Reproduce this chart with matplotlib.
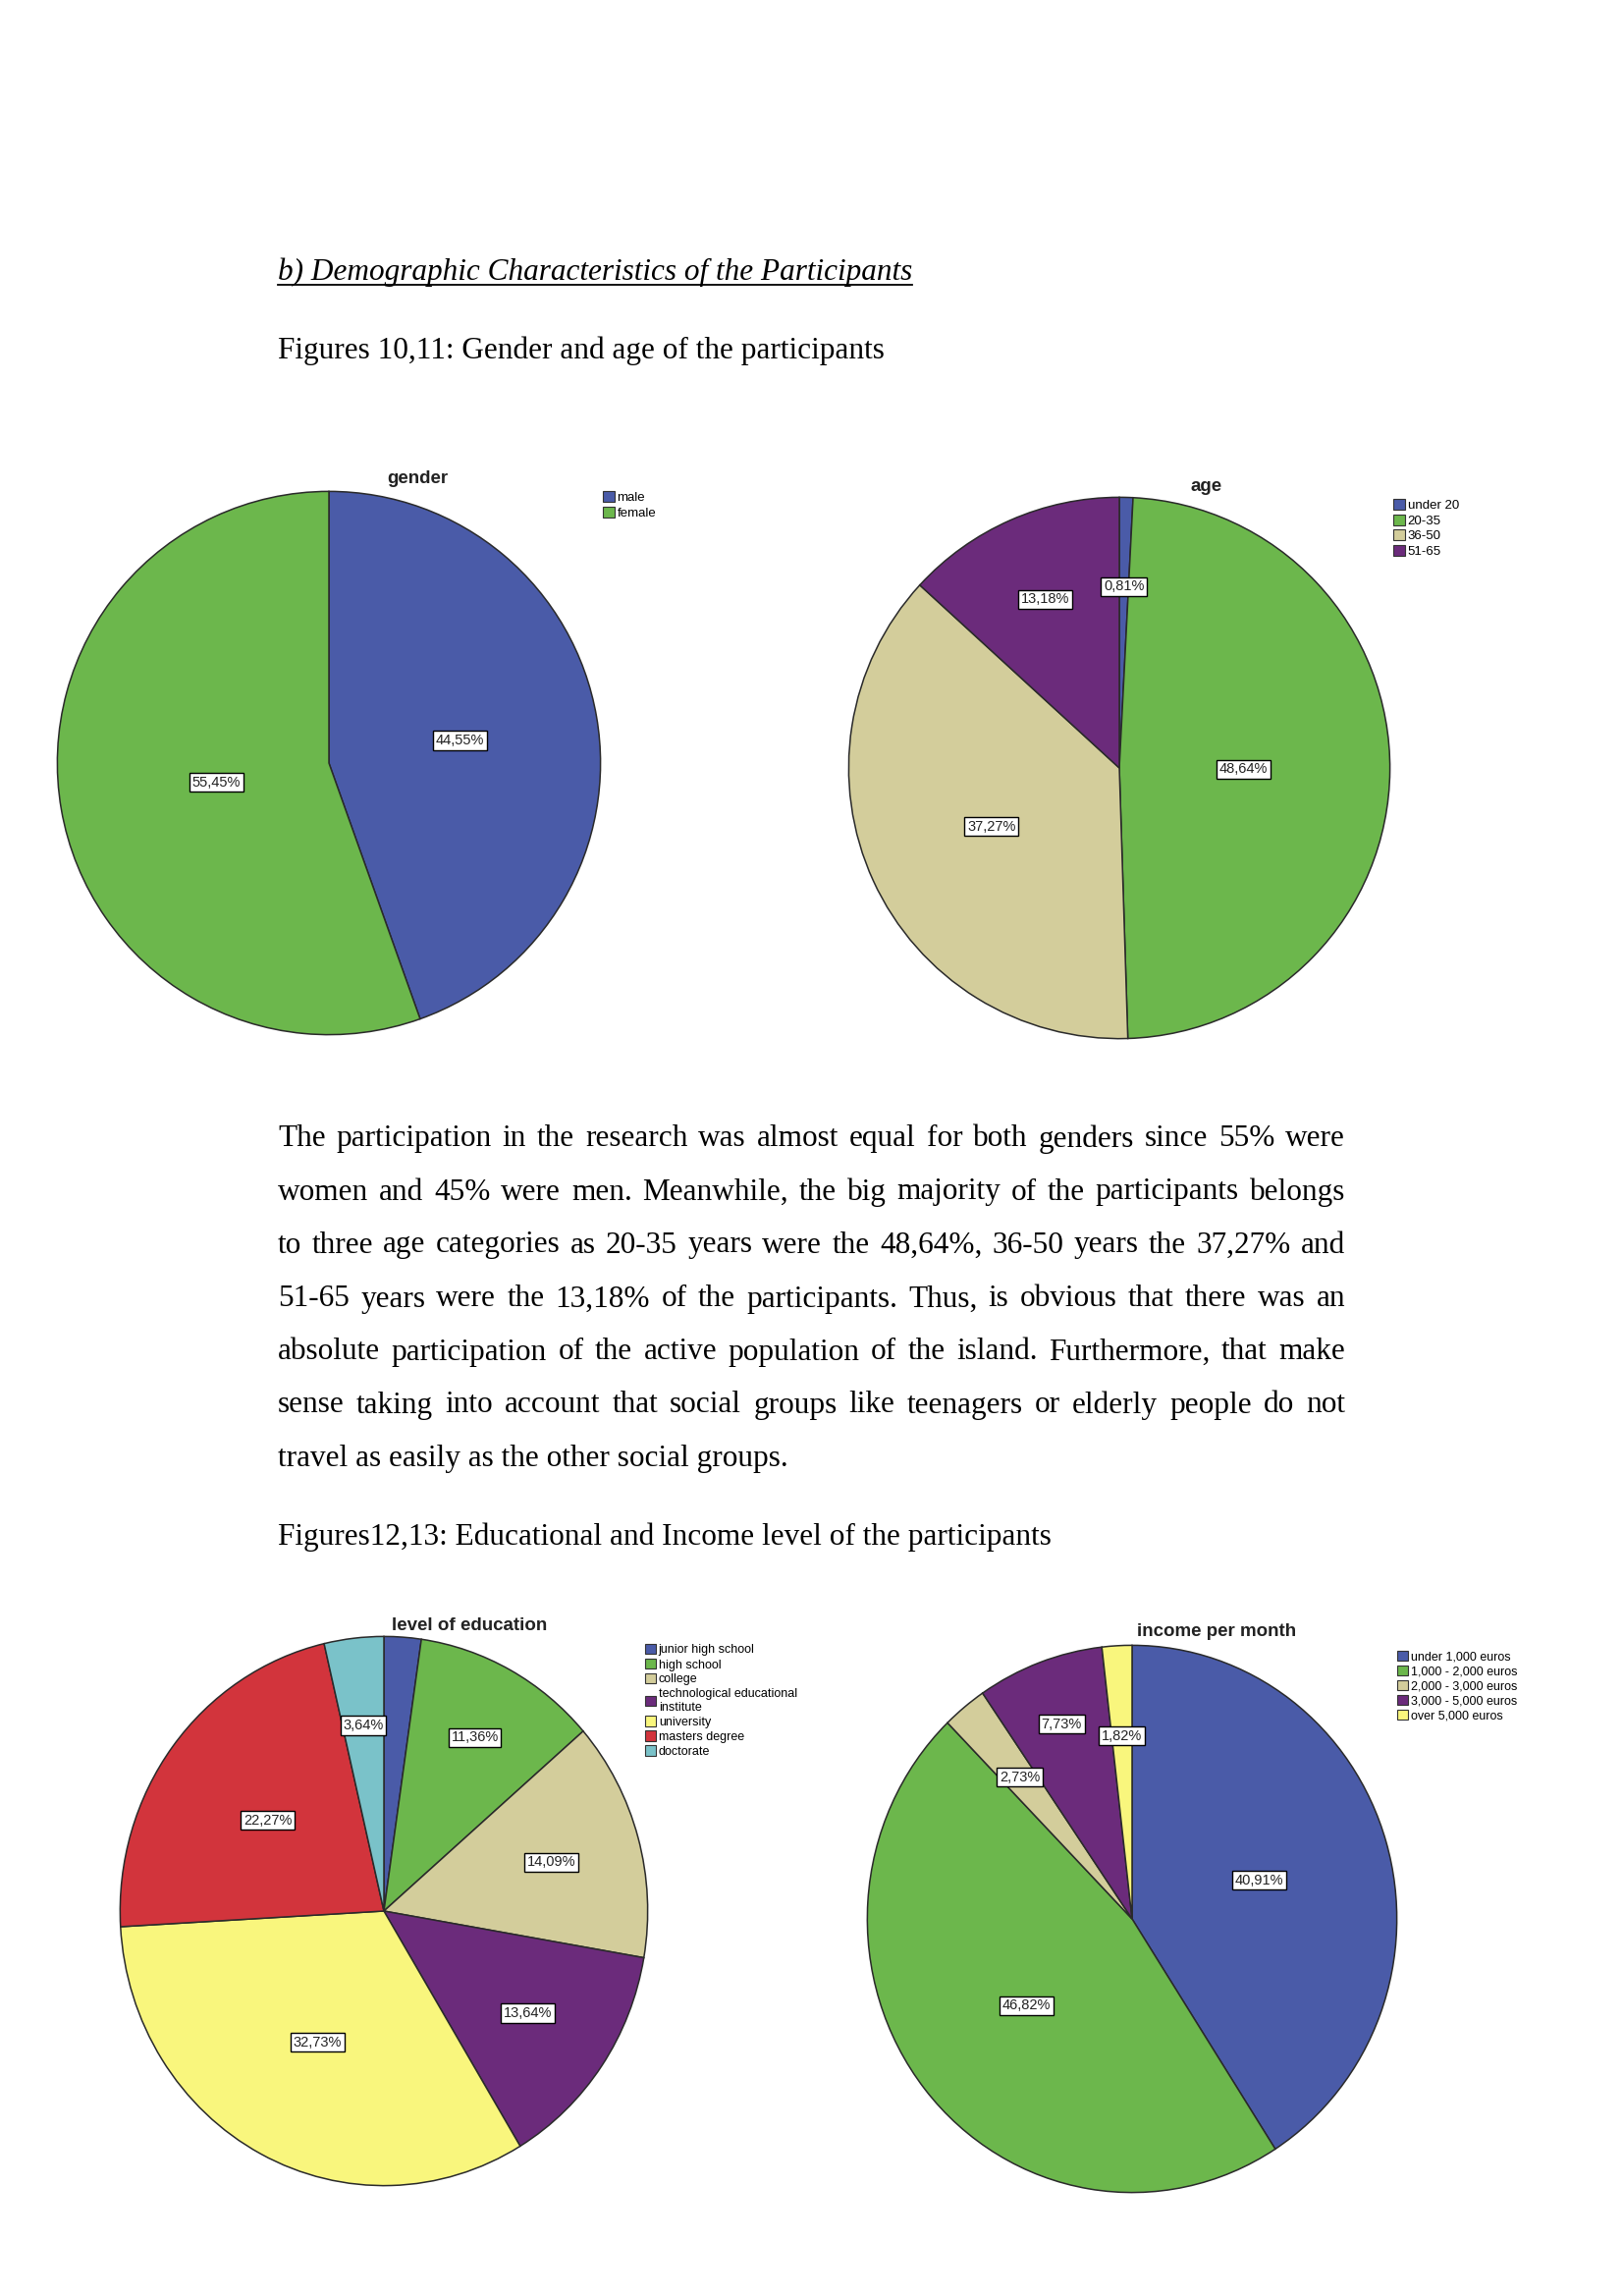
import matplotlib
matplotlib.use("Agg")
import matplotlib.pyplot as plt
from matplotlib.patches import Patch
import numpy as np

# page size in pixels
W, H = 1653, 2338

# ---- data ----
gender_labels = ["male", "female"]
gender_values = [44.55, 55.45]

age_labels = ["under 20", "20-35", "36-50", "51-65"]
age_values = [0.81, 48.64, 37.27, 13.18]

edu_labels = ["junior high school", "high school", "college",
              "technological educational\ninstitute", "university",
              "masters degree", "doctorate"]
edu_values = [2.27, 11.36, 14.09, 13.64, 32.73, 22.27, 3.64]
edu_shown = [False, True, True, True, True, True, True]

income_labels = ["under 1,000 euros", "1,000 - 2,000 euros", "2,000 - 3,000 euros",
                 "3,000 - 5,000 euros", "over 5,000 euros"]
income_values = [40.91, 46.82, 2.73, 7.73, 1.82]

header = "b) Demographic Characteristics of the Participants"
caption1 = "Figures 10,11: Gender and age of the participants"
caption2 = "Figures12,13: Educational and Income level of the participants"
paragraph = [
    "The participation in the research was almost equal for both genders since 55% were",
    "women and 45% were men.  Meanwhile, the big majority of the participants belongs",
    "to three age categories as 20-35 years were the 48,64%, 36-50 years the 37,27% and",
    "51-65 years were the 13,18% of the participants. Thus, is obvious that there was an",
    "absolute participation of the active population of the island. Furthermore, that make",
    "sense taking into account that social groups like teenagers or elderly people do not",
    "travel as easily as the other social groups.",
]

# SPSS-like colours
BLUE, GREEN, TAN = "#4a5ba8", "#6cb74c", "#d3cd9b"
PURPLE, YELLOW, RED, TEAL = "#6b2b7b", "#f9f67d", "#d2343c", "#7ac2c9"

fig = plt.figure(figsize=(W / 100, H / 100), dpi=100)
fig.patch.set_facecolor("white")
renderer = fig.canvas.get_renderer()


def fx(x):
    return x / W


def fy(y):
    return 1 - y / H


def draw_pie(cx, cy, rx, ry, values, colors, label_r, shown, title, title_xy,
             legend_labels, legend_xy, legend_fs):
    ax = fig.add_axes([fx(cx - rx), fy(cy + ry), 2 * rx / W, 2 * ry / H])
    wedges, _ = ax.pie(values, colors=colors, startangle=90, counterclock=False,
                       radius=1, wedgeprops=dict(edgecolor="#2a2a2a", linewidth=1.1))
    ax.set_aspect("auto")
    ax.set_xlim(-1.005, 1.005)
    ax.set_ylim(-1.005, 1.005)
    ax.axis("off")
    for w, v, lr, s in zip(wedges, values, label_r, shown):
        if not s:
            continue
        th = np.deg2rad((w.theta1 + w.theta2) / 2)
        ax.text(lr * np.cos(th), lr * np.sin(th), f"{v:.2f}%".replace(".", ","),
                ha="center", va="center", fontsize=10.5, family="Liberation Sans",
                color="#222222",
                bbox=dict(boxstyle="square,pad=0.18", fc="white", ec="black", lw=1.0))
    fig.text(fx(title_xy[0]), fy(title_xy[1]), title, ha="center", va="center",
             fontsize=13.5, fontweight="bold", family="Liberation Sans", color="#222222")
    handles = [Patch(facecolor=c, edgecolor="#333333", linewidth=0.8) for c in colors]
    fig.legend(handles, legend_labels, loc="upper left",
               bbox_to_anchor=(fx(legend_xy[0]), fy(legend_xy[1])),
               frameon=False, handlelength=0.9, handleheight=0.9,
               handletextpad=0.2, labelspacing=0.2, borderpad=0, borderaxespad=0,
               prop=dict(family="Liberation Sans", size=legend_fs))


draw_pie(335, 777, 278, 278, gender_values, [BLUE, GREEN], [0.49, 0.42], [True, True],
         "gender", (425, 487), gender_labels, (614, 500), 9.5)
draw_pie(1140, 782, 277, 277, age_values, [BLUE, GREEN, TAN, PURPLE],
         [0.67, 0.46, 0.52, 0.68], [True] * 4,
         "age", (1229, 495), age_labels, (1419, 508), 9.5)
draw_pie(391, 1946, 270, 281, edu_values, [BLUE, GREEN, TAN, PURPLE, YELLOW, RED, TEAL],
         [0.6, 0.72, 0.66, 0.66, 0.54, 0.55, 0.68], edu_shown,
         "level of education", (478, 1655), edu_labels, (657, 1674), 9)
draw_pie(1153, 1954, 271, 280, income_values, [BLUE, GREEN, TAN, PURPLE, YELLOW],
         [0.5, 0.51, 0.67, 0.76, 0.67], [True] * 5,
         "income per month", (1239, 1662), income_labels, (1423, 1681), 9)

# ---- page text ----
serif = "Liberation Serif"
body_fs = 22.5
left, right = 283, 1370

ht = fig.text(fx(left), fy(277), header, ha="left", va="center", fontsize=body_fs,
              family=serif, style="italic")
bb = ht.get_window_extent(renderer)
fig.add_artist(plt.Line2D([bb.x0 / W, bb.x1 / W], [(bb.y0 + 2) / H] * 2,
                          transform=fig.transFigure, color="black", lw=1.3))

fig.text(fx(left), fy(357), caption1, ha="left", va="center", fontsize=body_fs, family=serif)
fig.text(fx(left), fy(1565), caption2, ha="left", va="center", fontsize=body_fs, family=serif)

# shrink the paragraph font if the widest line would not fit
probe = fig.text(0, 0, max(paragraph, key=len), fontsize=body_fs, family=serif)
widest = max(probe.get_window_extent(renderer).width for _ in [0])
probe.remove()
widths_full = []
for line in paragraph:
    t = fig.text(0, 0, line, fontsize=body_fs, family=serif)
    widths_full.append(t.get_window_extent(renderer).width)
    t.remove()
para_fs = body_fs * min(1.0, (right - left) / max(widths_full) * 0.99)

# justified paragraph
line_y = [1160, 1214, 1268, 1323, 1377, 1431, 1486]
for i, (line, y) in enumerate(zip(paragraph, line_y)):
    if i == len(paragraph) - 1:
        fig.text(fx(left), fy(y), line, ha="left", va="center", fontsize=para_fs, family=serif)
        continue
    words = line.split()
    texts = [fig.text(0, fy(y), wd, ha="left", va="center", fontsize=para_fs, family=serif)
             for wd in words]
    widths = [t.get_window_extent(renderer).width for t in texts]
    gap = (right - left - sum(widths)) / (len(words) - 1)
    x = left
    for t, wdt in zip(texts, widths):
        t.set_x(fx(x))
        x += wdt + gap

fig.savefig("out.png", dpi=100, facecolor="white")
